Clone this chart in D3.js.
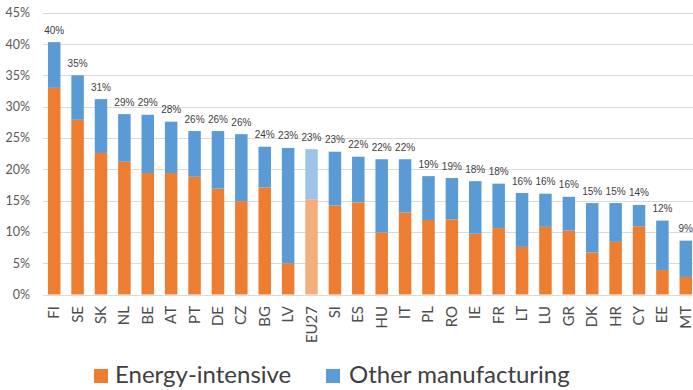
<!DOCTYPE html>
<html>
<head>
<meta charset="utf-8">
<script src="https://cdn.jsdelivr.net/npm/d3@7/dist/d3.min.js"></script>
<style>
  html, body { margin: 0; padding: 0; background: #ffffff; }
  svg { display: block; }
</style>
</head>
<body>
<div id="chart"></div>
<script>
// Country codes, ordered by total share
const countries = ["FI","SE","SK","NL","BE","AT","PT","DE","CZ","BG","LV","EU27","SI","ES","HU","IT","PL","RO","IE","FR","LT","LU","GR","DK","HR","CY","EE","MT"];

// Share (%) from energy-intensive industries
const energyIntensive = [33.0,27.9,22.6,21.2,19.4,19.4,18.8,16.9,14.9,17.1,5.0,15.2,14.2,14.7,9.9,13.1,11.9,12.0,9.7,10.6,7.6,10.8,10.2,6.7,8.4,10.9,3.9,2.8];

// Share (%) from other manufacturing
const otherManufacturing = [7.3,7.1,8.6,7.6,9.3,8.2,7.3,9.2,10.7,6.5,18.4,8.0,8.6,7.3,11.7,8.5,7.0,6.6,8.4,7.1,8.6,5.3,5.4,7.9,6.2,3.4,7.9,5.8];

// Y axis ticks (%)
const yTicks = [0,5,10,15,20,25,30,35,40,45];

const seriesNames = ["Energy-intensive","Other manufacturing"];
const seriesKeys = ["energy","other"];
const colors = { energy: "#ED7D31", other: "#5B9BD5" };
const lightColors = { energy: "#F4AD7C", other: "#9DC3E6" };
const highlight = "EU27";

const W = 693, H = 390;

const rows = countries.map((c, i) => ({
  country: c,
  energy: energyIntensive[i],
  other: otherManufacturing[i]
}));

const svg = d3.select("#chart").append("svg")
  .attr("width", W).attr("height", H);

const x = d3.scaleBand()
  .domain(countries)
  .range([42.5, 697.5])
  .paddingInner(0.466)
  .paddingOuter(0.233);

const y = d3.scaleLinear()
  .domain([0, 45])
  .range([294.5, 12.7]);

// Gridlines
svg.append("g")
  .selectAll("line")
  .data(yTicks)
  .join("line")
  .attr("x1", 43).attr("x2", W)
  .attr("y1", d => Math.round(y(d)) + 0.5)
  .attr("y2", d => Math.round(y(d)) + 0.5)
  .attr("stroke", "#d9d9d9")
  .attr("stroke-width", 1);

// Y axis labels
const yAxis = d3.axisLeft(y)
  .tickValues(yTicks)
  .tickFormat(d => d + "%")
  .tickSize(0)
  .tickPadding(0);

svg.append("g")
  .attr("transform", "translate(30,0)")
  .call(yAxis)
  .call(g => g.select(".domain").remove())
  .call(g => g.selectAll("text")
    .attr("fill", "#595959")
    .style("font-family", "Lato, 'Open Sans', sans-serif")
    .style("font-size", "12.5px"));

// Stacked bars
const stack = d3.stack().keys(seriesKeys);
const stacked = stack(rows);

svg.append("g")
  .selectAll("g")
  .data(stacked)
  .join("g")
  .each(function(layer) {
    d3.select(this).selectAll("rect")
      .data(layer)
      .join("rect")
      .attr("x", d => x(d.data.country))
      .attr("width", x.bandwidth())
      .attr("y", d => y(d[1]))
      .attr("height", d => y(d[0]) - y(d[1]))
      .attr("fill", d => d.data.country === highlight ? lightColors[layer.key] : colors[layer.key]);
  });

// Total labels above bars
svg.append("g")
  .selectAll("text")
  .data(rows)
  .join("text")
  .attr("x", d => x(d.country) + x.bandwidth() / 2)
  .attr("y", d => y(d.energy + d.other) - 8.5)
  .attr("text-anchor", "middle")
  .attr("fill", "#404040")
  .style("font-family", "'Liberation Sans', Arial, sans-serif")
  .style("font-size", "10px")
  .text(d => Math.round(d.energy + d.other) + "%");

// X axis category labels (rotated)
const xAxis = d3.axisBottom(x).tickSize(0).tickPadding(0);
svg.append("g")
  .attr("transform", "translate(0,0)")
  .call(xAxis)
  .call(g => g.select(".domain").remove())
  .call(g => g.selectAll(".tick text")
    .attr("transform", "translate(5,306) rotate(-90)")
    .attr("dy", 0)
    .attr("y", 0)
    .attr("x", 0)
    .attr("text-anchor", "end")
    .attr("fill", "#4d4d4d")
    .style("font-family", "Lato, 'Open Sans', sans-serif")
    .style("font-size", "15px"));

// Legend
const legendItems = [
  { key: "energy", name: seriesNames[0], sx: 94, tx: 115 },
  { key: "other", name: seriesNames[1], sx: 326, tx: 349 }
];
const legend = svg.append("g");
legend.selectAll("rect")
  .data(legendItems)
  .join("rect")
  .attr("x", d => d.sx).attr("y", 369)
  .attr("width", 14).attr("height", 14)
  .attr("fill", d => colors[d.key]);
legend.selectAll("text")
  .data(legendItems)
  .join("text")
  .attr("x", d => d.tx).attr("y", 383)
  .attr("fill", "#404040")
  .style("font-family", "Lato, 'Open Sans', sans-serif")
  .style("font-size", "24px")
  .text(d => d.name);
</script>
</body>
</html>
